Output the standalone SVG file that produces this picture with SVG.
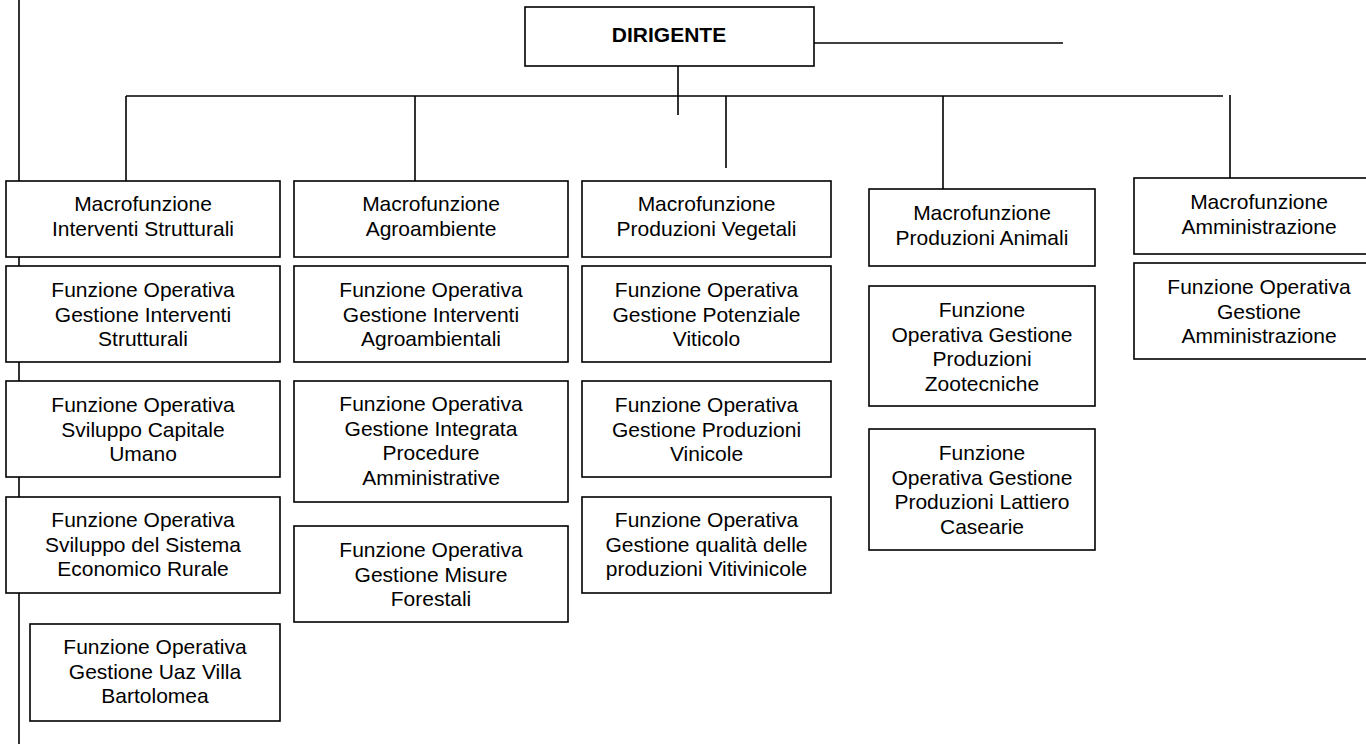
<svg xmlns="http://www.w3.org/2000/svg" width="1366" height="744" viewBox="0 0 1366 744">
  <style>
    .bg { fill: #ffffff; }
    .box { fill: #ffffff; stroke: #000000; stroke-width: 1.6; }
    .wire { fill: none; stroke: #000000; stroke-width: 1.6; }
    text { font-family: "Liberation Sans", Arial, sans-serif; font-size: 21px; fill: #000000; text-anchor: middle; }
    .head { font-weight: bold; }
  </style>
  <rect class="bg" x="0" y="0" width="1366" height="744"/>

  <!-- connectors -->
  <g id="connectors">
    <path class="wire" d="M19,0 V744"/>
    <path class="wire" d="M126,96 H1223"/>
    <path class="wire" d="M126,96 V181"/>
    <path class="wire" d="M415,96 V181"/>
    <path class="wire" d="M678,66 V115"/>
    <path class="wire" d="M726,96 V168"/>
    <path class="wire" d="M943,96 V189"/>
    <path class="wire" d="M1230,95 V178"/>
    <path class="wire" d="M814,43 H1063"/>
  </g>

  <!-- top -->
  <g id="dirigente">
    <rect class="box" x="525" y="7" width="289" height="59"/>
    <text class="head" x="669" y="42">DIRIGENTE</text>
  </g>

  <!-- column 1 -->
  <g id="macro-interventi-strutturali">
    <rect class="box" x="6" y="181" width="274" height="76"/>
    <text x="143"><tspan x="143" y="211">Macrofunzione</tspan><tspan x="143" y="235.5">Interventi Strutturali</tspan></text>
  </g>
  <g id="fo-gestione-interventi-strutturali">
    <rect class="box" x="6" y="266" width="274" height="96"/>
    <text x="143"><tspan x="143" y="297">Funzione Operativa</tspan><tspan x="143" y="321.5">Gestione Interventi</tspan><tspan x="143" y="346">Strutturali</tspan></text>
  </g>
  <g id="fo-sviluppo-capitale-umano">
    <rect class="box" x="6" y="381" width="274" height="96"/>
    <text x="143"><tspan x="143" y="412">Funzione Operativa</tspan><tspan x="143" y="436.5">Sviluppo Capitale</tspan><tspan x="143" y="461">Umano</tspan></text>
  </g>
  <g id="fo-sviluppo-sistema-economico">
    <rect class="box" x="6" y="497" width="274" height="96"/>
    <text x="143"><tspan x="143" y="527">Funzione Operativa</tspan><tspan x="143" y="551.5">Sviluppo del Sistema</tspan><tspan x="143" y="576">Economico Rurale</tspan></text>
  </g>
  <g id="fo-uaz-villa-bartolomea">
    <rect class="box" x="30" y="624" width="250" height="97"/>
    <text x="155"><tspan x="155" y="654">Funzione Operativa</tspan><tspan x="155" y="678.5">Gestione Uaz Villa</tspan><tspan x="155" y="703">Bartolomea</tspan></text>
  </g>

  <!-- column 2 -->
  <g id="macro-agroambiente">
    <rect class="box" x="294" y="181" width="274" height="76"/>
    <text x="431"><tspan x="431" y="211">Macrofunzione</tspan><tspan x="431" y="235.5">Agroambiente</tspan></text>
  </g>
  <g id="fo-interventi-agroambientali">
    <rect class="box" x="294" y="266" width="274" height="96"/>
    <text x="431"><tspan x="431" y="297">Funzione Operativa</tspan><tspan x="431" y="321.5">Gestione Interventi</tspan><tspan x="431" y="346">Agroambientali</tspan></text>
  </g>
  <g id="fo-procedure-amministrative">
    <rect class="box" x="294" y="381" width="274" height="121"/>
    <text x="431"><tspan x="431" y="411">Funzione Operativa</tspan><tspan x="431" y="435.5">Gestione Integrata</tspan><tspan x="431" y="460">Procedure</tspan><tspan x="431" y="484.5">Amministrative</tspan></text>
  </g>
  <g id="fo-misure-forestali">
    <rect class="box" x="294" y="526" width="274" height="96"/>
    <text x="431"><tspan x="431" y="557">Funzione Operativa</tspan><tspan x="431" y="581.5">Gestione Misure</tspan><tspan x="431" y="606">Forestali</tspan></text>
  </g>

  <!-- column 3 -->
  <g id="macro-produzioni-vegetali">
    <rect class="box" x="582" y="181" width="249" height="76"/>
    <text x="706.5"><tspan x="706.5" y="211">Macrofunzione</tspan><tspan x="706.5" y="235.5">Produzioni Vegetali</tspan></text>
  </g>
  <g id="fo-potenziale-viticolo">
    <rect class="box" x="582" y="266" width="249" height="96"/>
    <text x="706.5"><tspan x="706.5" y="297">Funzione Operativa</tspan><tspan x="706.5" y="321.5">Gestione Potenziale</tspan><tspan x="706.5" y="346">Viticolo</tspan></text>
  </g>
  <g id="fo-produzioni-vinicole">
    <rect class="box" x="582" y="381" width="249" height="96"/>
    <text x="706.5"><tspan x="706.5" y="412">Funzione Operativa</tspan><tspan x="706.5" y="436.5">Gestione Produzioni</tspan><tspan x="706.5" y="461">Vinicole</tspan></text>
  </g>
  <g id="fo-qualita-vitivinicole">
    <rect class="box" x="582" y="497" width="249" height="96"/>
    <text x="706.5"><tspan x="706.5" y="527">Funzione Operativa</tspan><tspan x="706.5" y="551.5">Gestione qualità delle</tspan><tspan x="706.5" y="576">produzioni Vitivinicole</tspan></text>
  </g>

  <!-- column 4 -->
  <g id="macro-produzioni-animali">
    <rect class="box" x="869" y="189" width="226" height="77"/>
    <text x="982"><tspan x="982" y="220">Macrofunzione</tspan><tspan x="982" y="244.5">Produzioni Animali</tspan></text>
  </g>
  <g id="fo-zootecniche">
    <rect class="box" x="869" y="286" width="226" height="120"/>
    <text x="982"><tspan x="982" y="317">Funzione</tspan><tspan x="982" y="341.5">Operativa Gestione</tspan><tspan x="982" y="366">Produzioni</tspan><tspan x="982" y="390.5">Zootecniche</tspan></text>
  </g>
  <g id="fo-lattiero-casearie">
    <rect class="box" x="869" y="429" width="226" height="121"/>
    <text x="982"><tspan x="982" y="460">Funzione</tspan><tspan x="982" y="484.5">Operativa Gestione</tspan><tspan x="982" y="509">Produzioni Lattiero</tspan><tspan x="982" y="533.5">Casearie</tspan></text>
  </g>

  <!-- column 5 -->
  <g id="macro-amministrazione">
    <rect class="box" x="1134" y="178" width="250" height="76"/>
    <text x="1259"><tspan x="1259" y="209">Macrofunzione</tspan><tspan x="1259" y="233.5">Amministrazione</tspan></text>
  </g>
  <g id="fo-gestione-amministrazione">
    <rect class="box" x="1134" y="263" width="250" height="96"/>
    <text x="1259"><tspan x="1259" y="294">Funzione Operativa</tspan><tspan x="1259" y="318.5">Gestione</tspan><tspan x="1259" y="343">Amministrazione</tspan></text>
  </g>
</svg>
